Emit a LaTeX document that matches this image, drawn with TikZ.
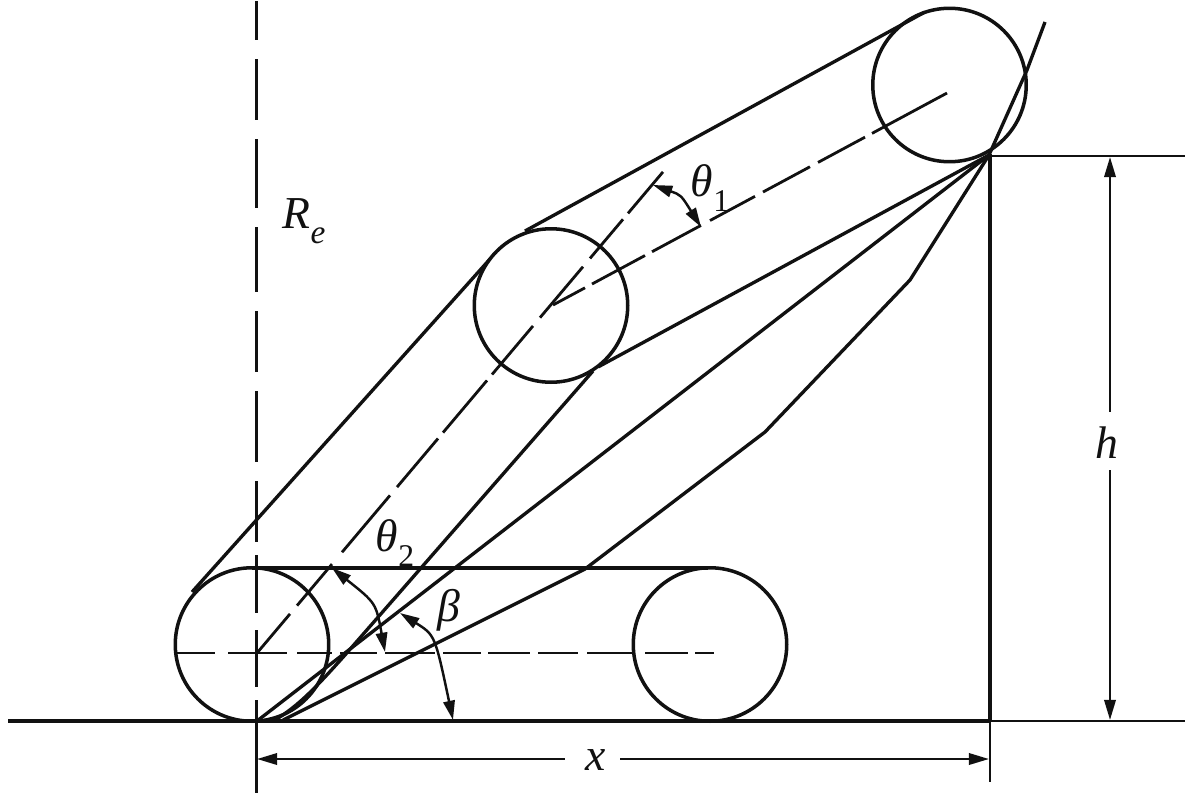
\documentclass[tikz,border=0pt]{standalone}
\usepackage{fontspec}
\setmainfont{Liberation Serif}
\usetikzlibrary{arrows.meta}
\definecolor{ink}{HTML}{111111}
\tikzset{
  roller/.style={circle,draw=ink,line width=2pt,minimum size=3.07cm,inner sep=0pt,outer sep=0pt},
  belt/.style={draw=ink,line width=1.9pt,line join=round},
  centreline/.style={draw=ink,line width=1.6pt},
  dimline/.style={draw=ink,line width=1.4pt},
  heavy/.style={draw=ink,line width=2.1pt},
  dimtips/.style={{Triangle[length=11.5pt,width=6.5pt]}-{Triangle[length=11.5pt,width=6.5pt]}},
  angtips/.style={{Triangle[length=11pt,width=6.5pt]}-{Triangle[length=11pt,width=6.5pt]}},
  lab/.style={inner sep=0pt,font=\fontsize{26}{26}\selectfont\itshape,text=ink}
}
\newcommand{\subup}[1]{\raisebox{-0.32em}{\fontsize{18}{18}\selectfont\upshape #1}}
\newcommand{\subit}[1]{\raisebox{-0.32em}{\fontsize{19}{19}\selectfont\itshape #1}}
\begin{document}
\begin{tikzpicture}[x=0.02cm,y=-0.02cm]
\useasboundingbox (0,0) rectangle (1200,795);
\node[roller] (c1) at (252,644.5) {};
\node[roller] (c2) at (551,305.5) {};
\node[roller] (c3) at (949.5,85) {};
\node[roller] (c4) at (710,644.5) {};
\coordinate (P) at (989,155);
\coordinate (g0) at (8,721);
\coordinate (g1) at (990,721);
\coordinate (g2) at (1185,721);
\coordinate (t1) at (1185,156);
\coordinate (a1) at (925,12);
\coordinate (a2) at (525,231);
\coordinate (a3) at (490,259);
\coordinate (a4) at (192,592);
\coordinate (b0) at (598,367);
\coordinate (b1) at (593,371);
\coordinate (b2) at (345,655);
\coordinate (b3) at (275,720);
\coordinate (O) at (257,721);
\coordinate (k0) at (283,720);
\coordinate (k1) at (585,569);
\coordinate (k2) at (765,432);
\coordinate (k3) at (910,280);
\coordinate (u1) at (1027,70);
\coordinate (u2) at (1045,22);
% belts
\draw[belt] (a1) -- (a2);
\draw[belt] (a3) -- (a4);
\draw[belt] (252,568) -- (708,568);
\draw[belt] (b0) -- (P);
\draw[belt] (b1) -- (b2) .. controls (318,685) and (300,705) .. (b3);
\draw[belt] (O) -- (P);
\draw[belt] (k0) -- (k1) -- (k2) -- (k3) -- (P) -- (u1) -- (u2);
% ground and datum
\draw[heavy] (g0) -- (g1);
\draw[dimline] (g1) -- (g2);
\draw[dimline] (990,156) -- (t1);
\draw[line width=2.2pt,draw=ink] (990,154) -- (g1);
\draw[dimline] (g1) -- (990,782);
% centre lines
\foreach \a/\b in {1/40,59/120,139/208,227/292,311/372,391/462,481/542,555/613,630/687,700/793}
  \draw[centreline] (256.5,\a) -- (256.5,\b);
\foreach \a/\b in {175/215,228/287,297/332,340/377,385/435,443/481,488/530,538/578,587/633,645/688,695/714}
  \draw[centreline] (\a,653) -- (\b,653);
\foreach \a/\b in {257/290,297/332,342/390,397/438,443/487,492/533,540/583,590/623,628/663}
  \draw[centreline] ({\a},{653-1.185*(\a-257)}) -- ({\b},{653-1.185*(\b-257)});
\foreach \a/\b in {553/585,592/645,652/701,710/755,763/810,818/865,872/947}
  \draw[centreline] ({\a},{305-0.538*(\a-553)}) -- ({\b},{305-0.538*(\b-553)});
% dimensions
\node[lab] (lx) at (596,760) {x};
\node[lab] (lh) at (1107,443) {h};
\coordinate (xl) at (257,759);
\coordinate (xr) at (989,759);
\coordinate (ht) at (1110,157);
\coordinate (hb) at (1110,720);
\draw[dimline,{Triangle[length=11.5pt,width=6.5pt]}-] (xl) -- (565,759);
\draw[dimline,-{Triangle[length=11.5pt,width=6.5pt]}] (620,759) -- (xr);
\draw[dimline,{Triangle[length=11.5pt,width=6.5pt]}-] (ht) -- (1110,412);
\draw[dimline,-{Triangle[length=11.5pt,width=6.5pt]}] (1110,470) -- (hb);
% angle arcs
\coordinate (th1a) at (653,185);
\coordinate (th1b) at (701,227);
\coordinate (th2a) at (332,568);
\coordinate (th2b) at (385,652);
\coordinate (ba) at (400,613);
\coordinate (bb) at (453,720);
\draw[dimline,angtips] (th1a) .. controls (681,195) .. (th1b);
\draw[dimline,angtips] (th2a) .. controls (376,603) .. (th2b);
\draw[dimline,angtips] (ba) .. controls (435,635) .. (bb);
% labels
\node[lab] (re) at (304,221) {R\subit{e}};
\node[lab] (t1l) at (710,188) {θ\subup{1}};
\node[lab] (t2l) at (395,543) {θ\subup{2}};
\node[lab] (bl) at (449,610) {β};
\end{tikzpicture}
\end{document}
